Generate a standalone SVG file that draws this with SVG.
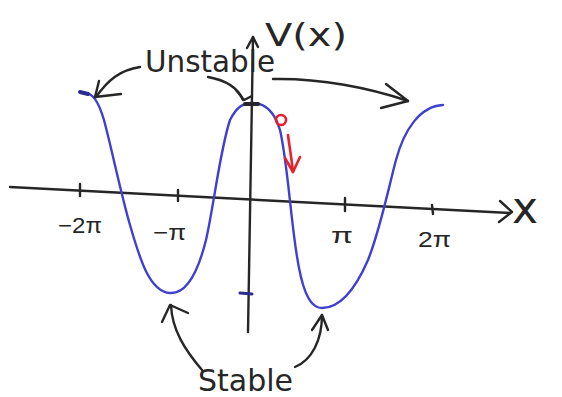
<svg xmlns="http://www.w3.org/2000/svg" width="562" height="397" viewBox="0 0 562 397">
<style>
.ink{fill:none;stroke:#262626;stroke-width:2.4;stroke-linecap:round;stroke-linejoin:round}
.curve{fill:none;stroke:#3f3fd0;stroke-width:2.4;stroke-linecap:round}
.red{fill:none;stroke:#e8222c;stroke-width:2.6;stroke-linecap:round;stroke-linejoin:round}
.hand{font-family:"DejaVu Sans","Liberation Sans",sans-serif;fill:#262626}
.tick{font-family:"Liberation Sans","DejaVu Sans",sans-serif;fill:#262626;font-size:22px}
</style>
<rect width="562" height="397" fill="#ffffff"/>
<g id="axes">
<path class="ink" d="M10,187 L510,213"/>
<path class="ink" d="M500,201 L512,212 L499,222"/>
<path class="ink" d="M248,332 L253,37"/>
<path class="ink" d="M247,48 L253,37 L258,47"/>
<path class="ink" d="M80,184 L80,196 M178,190 L178,201 M345,198 L345,211 M432,205 L433,214"/>
</g>
<g id="curve">
<path class="curve" d="M83,93 C92,92 98,100 104,120 C112,150 120,190 130,225 C140,260 150,292 170,293 C186,294 198,272 206,240 C214,205 220,150 230,120 C237,106 244,103 252,103 C264,103 274,110 280,130 C287,160 290,210 296,250 C301,285 308,308 322,308 C340,308 355,290 368,260 C380,230 388,190 396,160 C404,130 420,106 443,105"/>
<path d="M80,92 L88,94" stroke="#2b2b90" stroke-width="4" stroke-linecap="round"/>
<path d="M245,104 L258,104" stroke="#262626" stroke-width="4" stroke-linecap="round"/>
<path d="M240,293 L252,294" stroke="#2b2b90" stroke-width="3" stroke-linecap="round"/>
</g>
<g id="labels">
<text class="hand" x="265" y="46" font-size="32" textLength="82" lengthAdjust="spacingAndGlyphs">V(x)</text>
<text class="hand" x="512" y="223" font-size="44">x</text>
<text class="tick" x="58" y="233" textLength="44" lengthAdjust="spacingAndGlyphs">−2π</text>
<text class="tick" x="153" y="240" textLength="33" lengthAdjust="spacingAndGlyphs">−π</text>
<text class="tick" x="331" y="243" textLength="22" lengthAdjust="spacingAndGlyphs">π</text>
<text class="tick" x="418" y="247" textLength="33" lengthAdjust="spacingAndGlyphs">2π</text>
</g>
<g id="unstable">
<text class="hand" x="145" y="72" font-size="30" textLength="130" lengthAdjust="spacingAndGlyphs">Unstable</text>
</g>
<g id="stable">
<text class="hand" x="198" y="391" font-size="30" textLength="95" lengthAdjust="spacingAndGlyphs">Stable</text>
</g>
<g id="connectors">
<path class="ink" d="M140,67 C120,70 108,80 96,97"/>
<path class="ink" d="M99,81 L95,97 L121,94"/>
<path class="ink" d="M208,77 C225,80 238,88 243,100"/>
<path class="ink" d="M236,90 L244,100 L252,96"/>
<path class="ink" d="M273,79 C320,78 370,88 408,101"/>
<path class="ink" d="M386,84 L408,101 L381,108"/>
<path class="ink" d="M202,370 C185,350 172,330 171,305"/>
<path class="ink" d="M162,322 L170,305 L188,313"/>
<path class="ink" d="M295,367 C312,360 322,340 322,315"/>
<path class="ink" d="M312,330 L322,315 L328,330"/>
</g>
<g id="ball">
<circle class="red" cx="281" cy="120" r="5" stroke-width="3.6"/>
<path class="red" d="M288,135 C290,150 292,162 293,172"/>
<path class="red" d="M285,158 L293,172 L300,157"/>
</g>
</svg>
